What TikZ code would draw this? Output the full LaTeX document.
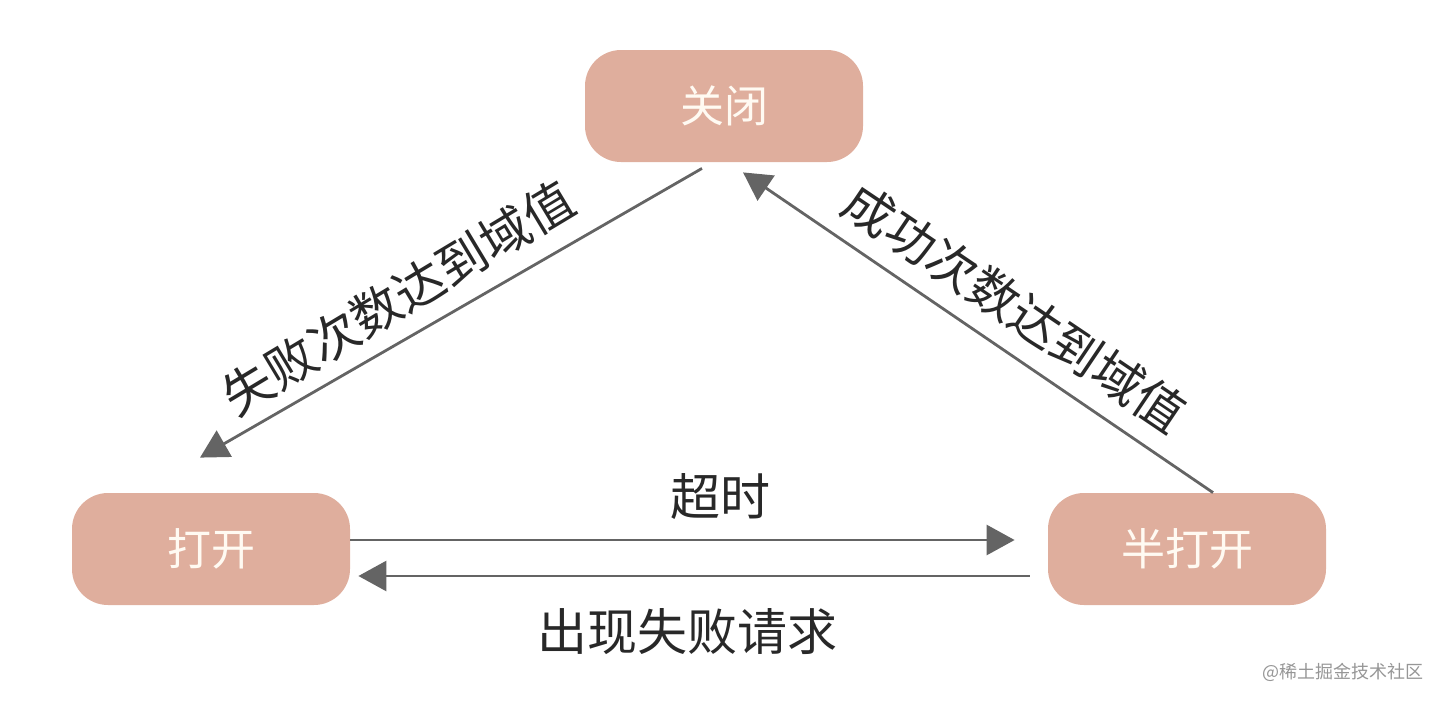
\documentclass[tikz,border=0pt]{standalone}
\usepackage{fontspec}
\newfontfamily\cjk{Noto Sans CJK SC}
\usetikzlibrary{arrows.meta}
\definecolor{statefill}{RGB}{223,174,157}
\definecolor{statetext}{RGB}{255,250,242}
\definecolor{linegray}{RGB}{100,100,100}
\definecolor{labeltext}{RGB}{40,40,40}
\definecolor{marktext}{RGB}{150,150,150}
\begin{document}
\begin{tikzpicture}[x=0.5pt,y=-0.5pt,
  state/.style={draw=none, fill=statefill, rounded corners=18pt, minimum width=139pt, minimum height=56pt, text=statetext, font=\cjk\fontsize{22}{22}\selectfont},
  conn/.style={draw=linegray, line width=1.4pt, -{Triangle[length=14pt,width=15pt]}},
  lbl/.style={font=\cjk\fontsize{25}{25}\selectfont, text=labeltext, inner sep=0pt},
  wmark/.style={font=\cjk\fontsize{9}{9}\selectfont, text=marktext, inner sep=0pt}]
\useasboundingbox (0,0) rectangle (1444,702);
\node[state] (close) at (724,106) {关闭};
\node[state] (open) at (211,549) {打开};
\node[state] (half) at (1187,549) {半打开};
\draw[conn] ([xshift=-11pt,yshift=-3pt]close.south) -- ([xshift=-5.5pt,yshift=17.5pt]open.north);
\draw[conn] ([xshift=13pt]half.north) -- ([xshift=9.5pt,yshift=-5pt]close.south);
\draw[conn] ([yshift=4.5pt]open.east) -- ([xshift=-16.5pt,yshift=4.5pt]half.west);
\draw[conn] ([xshift=-9pt,yshift=-13.5pt]half.west) -- ([xshift=4pt,yshift=-13.5pt]open.east);
\node[lbl, rotate=31] (lfail) at (398,298) {失败次数达到域值};
\node[lbl, rotate=-34] (lsucc) at (1015,308) {成功次数达到域值};
\node[lbl] (ltime) at (720,497) {超时};
\node[lbl] (lreq) at (687,632) {出现失败请求};
\node[wmark] (wm) at (1343,672) {@稀土掘金技术社区};
\end{tikzpicture}
\end{document}
